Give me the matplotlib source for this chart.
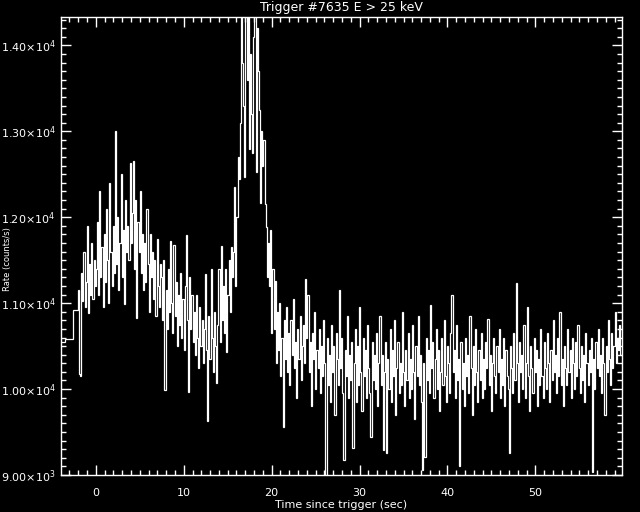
import matplotlib
matplotlib.use("Agg")
import matplotlib.pyplot as plt
from matplotlib.ticker import MultipleLocator, FuncFormatter
import numpy as np

# pre-trigger 1.024 s bins (edges in s, rates in counts/s)
pre_edges = [-4.1, -3.55, -2.57]
pre_rate = [10550, 10585, 10920]

# 128 ms bins starting at -2.048 s
bin_start = -2.048
bin_width = 0.128

rate_lead = [11150, 10180, 10150, 11350, 11020, 11600, 10950, 11250,
             11900, 10880, 11450, 11100, 11700, 11050, 11500, 11200]
rate_hump_a = [11400, 11950, 11100, 12300, 11300, 11650, 10950, 11800,
               11250, 12100, 11500, 11000, 12400, 11600, 11200, 11900,
               11350, 13000, 11450, 12000, 11150, 11700, 12500, 11300,
               11850, 10990, 12200, 11600]
rate_hump_b = [11900, 11500, 12630, 11700, 12050, 12660, 11400, 12200,
               10830, 11950, 11600, 12300, 11350, 11800, 11150]
rate_hump_c = [11700, 11250, 12100, 11450, 10900, 11800, 11300, 11600,
               11050, 11500, 10850, 11750, 11200, 10950, 11450]
rate_decline_a = [11300, 10800, 11500, 9990, 11150, 10700, 11400, 10900,
                  11720, 11000, 10650, 11680, 10850, 11250, 10500, 11100,
                  10750, 11350, 10600, 11050, 10450, 11200, 11795, 10800,
                  9970, 11300, 10700, 11100, 10550]
rate_decline_b = [10900, 10400, 11100, 10600, 10250, 10950, 10500, 10800,
                  10300, 10700, 11340, 10450, 9632, 10850, 10350, 11400,
                  10600, 10200, 10900, 10500, 10070, 10750, 11400, 10550]
rate_rise = [11670, 10800, 11200, 10650, 11400, 10430, 11100, 11500,
             10900, 11650, 11300,
             11600, 12350, 11200, 12000, 12700, 12450, 13100]
rate_peak = [14500, 13800, 13300, 12470, 14450, 13600, 14400, 12790,
             13900, 13200, 12750, 14100, 14600, 12530, 14200, 13700]
rate_decay = [13250, 12170, 13000, 12600, 12900, 12150,
              11890, 11300, 11700, 11200, 11850, 10650, 11400]
rate_background = [
    10700, 11260, 10300, 10900, 10450, 11000, 10150, 10600, 9560, 10800,
    10350, 10950, 10200, 10650, 10050, 10800, 10400, 11050, 10250, 10550,
    9900, 10700, 10350, 10850, 10100, 10500, 10750, 10300, 11280, 10600,
    11100, 10200, 10550, 9800, 10650, 10350, 10900, 10000, 10450, 10250,
    10700, 9950, 10500, 10150, 10800, 10300, 8900, 10600, 10050, 10400,
    9850, 10750, 10200, 10500, 9700, 10650, 10350, 10050, 11150, 10250,
    10600, 9950, 9175, 10450, 10150, 10850, 9900, 10400, 10100, 10550,
    9310, 10300, 10700, 9850, 10500, 10050, 10950, 10200, 9750, 10600,
    10150, 10450, 9900, 10750, 10250, 9950, 9440, 10550, 10100, 10400,
    10000, 10650, 9800, 10300, 10850, 10050, 10400, 9290, 10200, 10550,
    9260, 10350, 10000, 10700, 9850, 10450, 10150, 10800, 9700, 10250,
    10550, 9950, 10300, 10050, 10900, 10200, 9800, 10450, 10100, 10650,
    9900, 10350, 10000, 10750, 10200, 9650, 10500, 10150, 10850, 10050,
    10400, 9850, 9060, 10300, 9210, 10600, 10100, 10450, 9950, 10980,
    10250, 10550, 9900, 10350, 10700, 10000, 10450, 9750, 10200, 10600,
    10050, 10800, 10150, 9850, 10500, 10300, 9950, 10650, 11100, 10200,
    10450, 9900, 10750, 10100, 10350, 9100, 10550, 10000, 10300, 9800,
    10600, 10150, 10400, 9950, 10850, 10250, 9700, 10500, 10050, 10700,
    10200, 9850, 10450, 10100, 10650, 9900, 10350, 10000, 10550, 10250,
    10820, 10050, 10400, 9750, 10300, 10600, 10150, 9950, 10500, 10200,
    10700, 9900, 10350, 10050, 10600, 9800, 10450, 10150, 10000, 9260,
    10500, 10250, 9950, 10650, 10100, 11240, 10300, 9850, 10550, 10200,
    10400, 10000, 10750, 9900, 10300, 10950, 10150, 9750, 10500, 10250,
    9950, 10600, 10200, 10450, 9800, 10350, 10050, 10700, 10150, 9900,
    10550, 10250, 10000, 10650, 10300, 9850, 10450, 10100, 10800, 10200,
    10400, 9950, 10600, 10150, 10900, 10050, 10350, 9800, 10500, 10250,
    10050, 10700, 10200, 10450, 9900, 10600, 10300, 10000, 10550, 10150,
    10750, 10250, 9950, 10500, 10100, 10400, 9850, 10650, 10300, 10050,
    10450, 10200, 10600, 9040, 10350, 10000, 10550, 10250, 10700, 10150,
    10400, 9950, 10600, 10300, 9700, 10500, 10200, 10800, 10350, 10050,
    10650, 10250, 10500, 10900, 10300, 10600, 10450, 10750, 10400]

rate = np.concatenate([rate_lead, rate_hump_a, rate_hump_b, rate_hump_c,
                       rate_decline_a, rate_decline_b, rate_rise, rate_peak,
                       rate_decay, rate_background])
fine_edges = bin_start + bin_width * np.arange(len(rate) + 1)
edges = np.concatenate([pre_edges, fine_edges])
values = np.concatenate([pre_rate, rate])

fig = plt.figure(figsize=(6.4, 5.12), dpi=100, facecolor="black")
ax = fig.add_axes([61 / 640, 37 / 512, 561 / 640, 458 / 512], facecolor="black")

ax.stairs(values, edges, baseline=None, color="white", lw=0.9)

ax.set_xlim(-3.96, 59.85)
ax.set_ylim(9000, 14330)

ax.xaxis.set_major_locator(MultipleLocator(10))
ax.xaxis.set_minor_locator(MultipleLocator(1))
ax.yaxis.set_major_locator(MultipleLocator(1000))
ax.yaxis.set_minor_locator(MultipleLocator(100))


def sci_label(v, pos):
    e = int(np.floor(np.log10(v)))
    return f"{v / 10 ** e:.2f}×10$^{e}$"


ax.yaxis.set_major_formatter(FuncFormatter(sci_label))

for s in ax.spines.values():
    s.set_color("white")
    s.set_linewidth(1.0)
ax.tick_params(which="both", direction="in", top=True, right=True,
               colors="white", labelsize=8, width=1.0)
ax.tick_params(which="major", length=7)
ax.tick_params(which="minor", length=3.6)
ax.tick_params(axis="x", which="both", pad=9)
ax.tick_params(axis="y", which="both", pad=4)

ax.set_xlabel("Time since trigger (sec)", color="white", fontsize=8, labelpad=2)
ax.set_ylabel("Rate (counts/s)", color="white", fontsize=6)
# reference crowds the y label against the left edge; keep it just inside,
# between the 1.10 and 1.20 tick labels
ax.yaxis.set_label_coords(-0.088, 0.472)
ax.set_title("Trigger #7635 E > 25 keV", color="white", fontsize=9, pad=4)

fig.savefig("out.png", dpi=100, facecolor="black")
